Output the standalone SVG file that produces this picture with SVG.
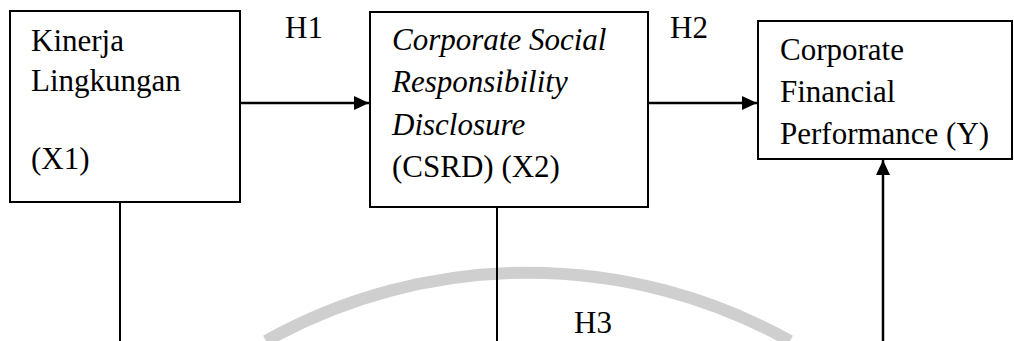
<svg xmlns="http://www.w3.org/2000/svg" width="1014" height="341" viewBox="0 0 1014 341">
  <style>
    .box { fill: #ffffff; stroke: #000000; stroke-width: 2; }
    .lbl { font-family: 'Liberation Serif', Tinos, 'Times New Roman', Times, 'Nimbus Roman', 'DejaVu Serif', serif; font-size: 31px; fill: #000000; }
    .it { font-style: italic; }
    .link { fill: none; stroke: #000000; stroke-width: 2.5; }
    .stem { fill: none; stroke: #000000; stroke-width: 2; }
    .mark { fill: none; stroke: #cfcfcf; stroke-width: 12; }
  </style>
  <defs>
    <marker id="arrow" markerUnits="userSpaceOnUse" markerWidth="16" markerHeight="14" refX="15" refY="7" orient="auto">
      <path d="M0,0 L15,7 L0,14 Z" fill="#000000"/>
    </marker>
  </defs>

  <rect width="1014" height="341" fill="#ffffff"/>

  <!-- faint background seal -->
  <path class="mark" d="M 266 341 A 537 537 0 0 1 790 341"/>

  <g id="connectors">
    <line class="link" x1="240" y1="103" x2="369" y2="103" marker-end="url(#arrow)"/>
    <line class="link" x1="648" y1="103" x2="757" y2="103" marker-end="url(#arrow)"/>
    <line class="stem" x1="120" y1="202" x2="120" y2="341"/>
    <line class="stem" x1="497" y1="200" x2="497" y2="341"/>
    <line class="link" x1="883" y1="341" x2="883" y2="160" marker-end="url(#arrow)"/>
    <text class="lbl" x="285" y="38" font-family="Liberation Serif, serif">H1</text>
    <text class="lbl" x="670" y="38" font-family="Liberation Serif, serif">H2</text>
    <text class="lbl" x="574" y="333" font-family="Liberation Serif, serif">H3</text>
  </g>

  <g id="node-x1" font-family="Liberation Serif, serif">
    <rect class="box" x="10" y="11" width="230" height="191"/>
    <text class="lbl" x="31" y="50.5">Kinerja</text>
    <text class="lbl" x="31" y="90.5">Lingkungan</text>
    <text class="lbl" x="31" y="169">(X1)</text>
  </g>

  <g id="node-x2">
    <rect class="box" x="370" y="12" width="278" height="195"/>
    <text class="lbl it" x="392" y="50">Corporate Social</text>
    <text class="lbl it" x="392" y="92">Responsibility</text>
    <text class="lbl it" x="392" y="135">Disclosure</text>
    <text class="lbl" x="392" y="177">(CSRD) (X2)</text>
  </g>

  <g id="node-y">
    <rect class="box" x="758" y="21" width="254" height="138"/>
    <text class="lbl" x="780" y="59.5">Corporate</text>
    <text class="lbl" x="780" y="101.5">Financial</text>
    <text class="lbl" x="780" y="143.5">Performance (Y)</text>
  </g>
</svg>
